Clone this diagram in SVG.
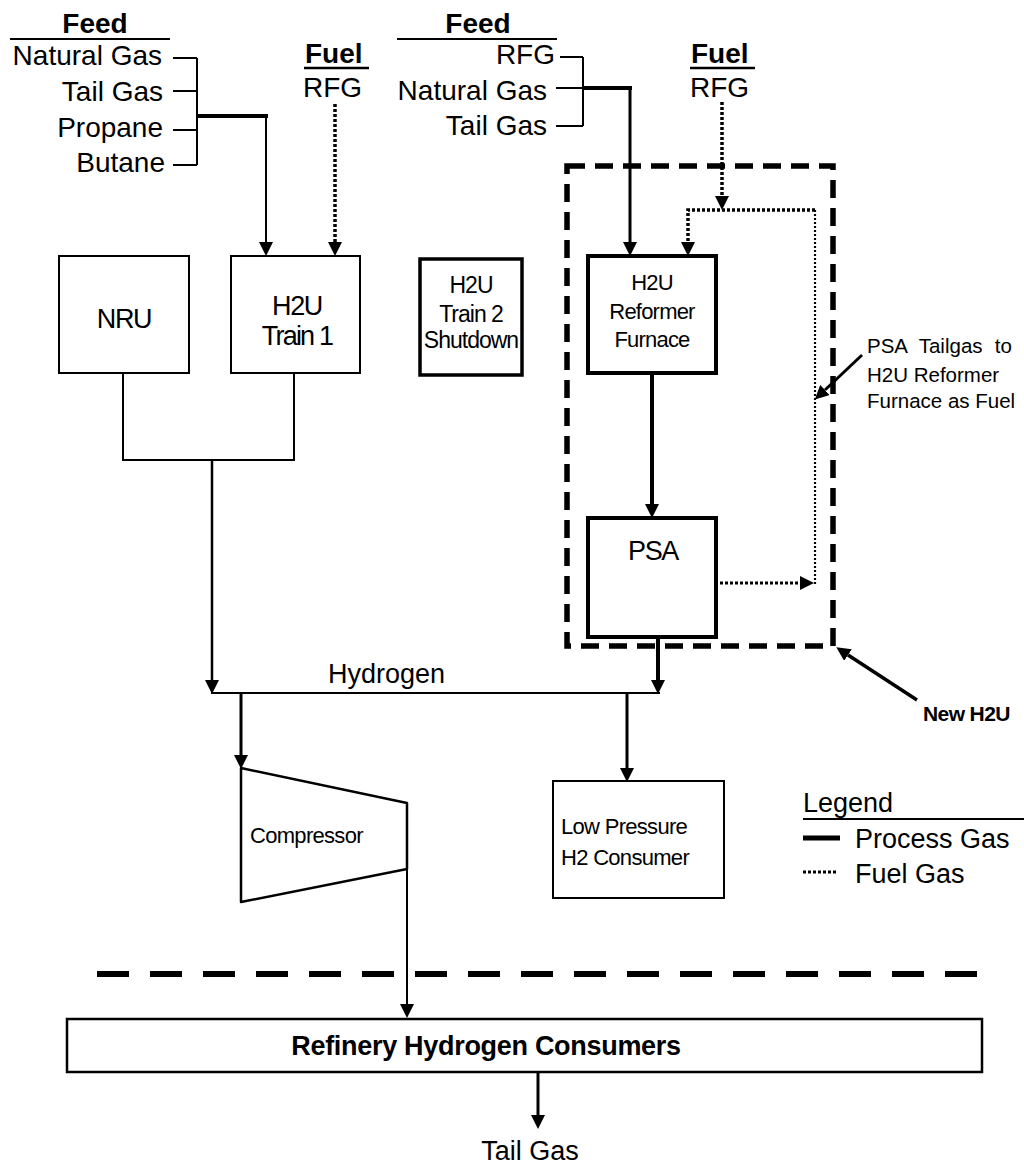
<svg xmlns="http://www.w3.org/2000/svg" width="1024" height="1165" viewBox="0 0 1024 1165">
<style>
text{font-family:"Liberation Sans",Arial,sans-serif;fill:#000}
.b{font-weight:bold}
.t28{font-size:28px}
.t27{font-size:27px}
.box{fill:#fff;stroke:#000;stroke-width:2}
.tbox{fill:#fff;stroke:#000;stroke-width:4}
.ln{fill:none;stroke:#000;stroke-width:2}
.thk{fill:none;stroke:#000;stroke-width:4}
.dot{fill:none;stroke:#000;stroke-width:3.5;stroke-dasharray:3 2}
.dot2{fill:none;stroke:#000;stroke-width:2.2;stroke-dasharray:2 2}
</style>
<defs>
<marker id="ah" markerUnits="userSpaceOnUse" markerWidth="14" markerHeight="14" refX="0" refY="7" orient="auto"><path d="M0,0 L14,7 L0,14 z" fill="#000"/></marker>
</defs>
<rect width="1024" height="1165" fill="#fff"/>

<g id="feed1">
<text class="b t28" x="95" y="33" text-anchor="middle">Feed</text>
<line class="ln" x1="10" y1="39" x2="170" y2="39"/>
<text class="t28" x="162" y="65" text-anchor="end">Natural Gas</text>
<text class="t28" x="163" y="101" text-anchor="end">Tail Gas</text>
<text class="t28" x="163" y="137" text-anchor="end">Propane</text>
<text class="t28" x="165" y="172" text-anchor="end">Butane</text>
</g>
<g id="fuel1">
<text class="b t28" x="305" y="63">Fuel</text>
<line class="ln" x1="304" y1="68" x2="369" y2="68" style="stroke-width:2.5"/>
<text class="t28" x="303" y="97">RFG</text>
</g>
<g id="feed2">
<text class="b t28" x="478" y="33" text-anchor="middle">Feed</text>
<line class="ln" x1="397" y1="39" x2="557" y2="39"/>
<text class="t28" x="555" y="64" text-anchor="end">RFG</text>
<text class="t28" x="547" y="100" text-anchor="end">Natural Gas</text>
<text class="t28" x="547" y="135" text-anchor="end">Tail Gas</text>
</g>
<g id="fuel2">
<text class="b t28" x="691" y="63">Fuel</text>
<line class="ln" x1="690" y1="68" x2="755" y2="68" style="stroke-width:2.5"/>
<text class="t28" x="690" y="97">RFG</text>
</g>

<g id="nru">
<rect class="box" x="59" y="256" width="130" height="117"/>
<text x="124" y="328" font-size="27" letter-spacing="-1.3" text-anchor="middle">NRU</text>
</g>
<g id="h2u-train1">
<rect class="box" x="231" y="256" width="129" height="117"/>
<text x="297" y="315" font-size="27" letter-spacing="-1.3" text-anchor="middle">H2U</text>
<text x="297" y="345" font-size="27" letter-spacing="-1.8" text-anchor="middle">Train 1</text>
</g>
<g id="h2u-train2">
<rect class="box" x="420" y="259" width="102" height="116" style="stroke-width:3.5"/>
<text x="471" y="293" font-size="23" letter-spacing="-1" text-anchor="middle">H2U</text>
<text x="471" y="322" font-size="23" letter-spacing="-1" text-anchor="middle">Train 2</text>
<text x="471" y="348" font-size="23" letter-spacing="-1" text-anchor="middle">Shutdown</text>
</g>
<g id="reformer">
<rect class="tbox" x="588" y="256" width="128" height="117"/>
<text x="652" y="290" font-size="22" letter-spacing="-0.8" text-anchor="middle">H2U</text>
<text x="652" y="319" font-size="22" letter-spacing="-0.8" text-anchor="middle">Reformer</text>
<text x="652" y="347" font-size="22" letter-spacing="-0.8" text-anchor="middle">Furnace</text>
</g>
<g id="psa">
<rect class="tbox" x="588" y="518" width="128" height="119"/>
<text x="653" y="560" font-size="27" letter-spacing="-1.3" text-anchor="middle">PSA</text>
</g>
<g id="new-h2u-boundary">
<rect x="567" y="166" width="266" height="480" fill="none" stroke="#000" stroke-width="5.5" stroke-dasharray="18 10"/>
</g>
<g id="compressor">
<polygon points="241,768 407,803 407,869 241,902" fill="#fff" stroke="#000" stroke-width="2.5" stroke-linejoin="round"/>
<text x="250" y="843" font-size="22" letter-spacing="-0.7">Compressor</text>
</g>
<g id="lp-consumer">
<rect class="box" x="553" y="781" width="171" height="117"/>
<text x="561" y="834" font-size="22" letter-spacing="-0.7">Low Pressure</text>
<text x="561" y="865" font-size="22" letter-spacing="-0.7">H2 Consumer</text>
</g>
<g id="refinery">
<rect class="box" x="67" y="1019" width="915" height="53" style="stroke-width:2.5"/>
<text class="b t27" x="486" y="1055" text-anchor="middle" letter-spacing="-0.3">Refinery Hydrogen Consumers</text>
</g>

<g id="labels">
<text x="328" y="683" class="t27">Hydrogen</text>
<text x="530" y="1160" class="t27" text-anchor="middle">Tail Gas</text>
<text x="867" y="353" font-size="20.5" word-spacing="6.5">PSA Tailgas to</text>
<text x="867" y="382" font-size="20.5">H2U Reformer</text>
<text x="867" y="408" font-size="20.5">Furnace as Fuel</text>
<text x="923" y="721" class="b" font-size="21" letter-spacing="-0.6">New H2U</text>
</g>

<g id="legend">
<text x="803" y="812" class="t27">Legend</text>
<line class="ln" x1="803" y1="819" x2="1024" y2="819"/>
<line x1="803" y1="838" x2="840" y2="838" stroke="#000" stroke-width="5"/>
<text x="855" y="848" class="t27">Process Gas</text>
<line x1="803" y1="872" x2="836" y2="872" class="dot" style="stroke-width:3"/>
<text x="855" y="883" class="t27">Fuel Gas</text>
</g>

<g id="connectors">
<path class="ln" d="M173,58 H197 M173,91 H197 M173,130 H197 M173,165 H197 M197,58 V165"/>
<line class="thk" x1="197" y1="116" x2="268" y2="116"/>
<path class="ln" d="M266,116 V242" marker-end="url(#ah)"/>
<path class="dot" d="M335,104 V242" marker-end="url(#ah)"/>
<path class="ln" d="M560,57 H583 M556,88 H583 M556,126 H583 M583,57 V126"/>
<line class="thk" x1="583" y1="88" x2="632" y2="88"/>
<path fill="none" stroke="#000" stroke-width="3" d="M630,88 V242" marker-end="url(#ah)"/>
<path class="dot" d="M722,102 V196" marker-end="url(#ah)"/>
<path class="dot" d="M815,210 H688 V242" marker-end="url(#ah)"/>
<path class="dot2" d="M815,210 V585"/>
<path class="dot" style="stroke-width:3" d="M720,583 H800" marker-end="url(#ah)"/>
<path class="thk" d="M652,373 V504" marker-end="url(#ah)"/>
<path class="thk" d="M658,637 V680" marker-end="url(#ah)"/>
<path class="ln" d="M123,373 V460 H294 V373"/>
<path class="ln" style="stroke-width:2.5" d="M212,460 V680" marker-end="url(#ah)"/>
<line class="ln" x1="211" y1="693" x2="660" y2="693"/>
<path fill="none" stroke="#000" stroke-width="3" d="M241,693 V755" marker-end="url(#ah)"/>
<path fill="none" stroke="#000" stroke-width="3" d="M627,693 V768" marker-end="url(#ah)"/>
<path class="ln" d="M407,869 V1004" marker-end="url(#ah)"/>
<path fill="none" stroke="#000" stroke-width="3" d="M538,1072 V1115" marker-end="url(#ah)"/>
<path fill="none" stroke="#000" stroke-width="3" d="M862,355 L825,390" marker-end="url(#ah)"/>
<path fill="none" stroke="#000" stroke-width="3.5" d="M917,700 L848,655" marker-end="url(#ah)"/>
<line x1="97" y1="974" x2="982" y2="974" stroke="#000" stroke-width="6" stroke-dasharray="32 21"/>
</g>
</svg>
